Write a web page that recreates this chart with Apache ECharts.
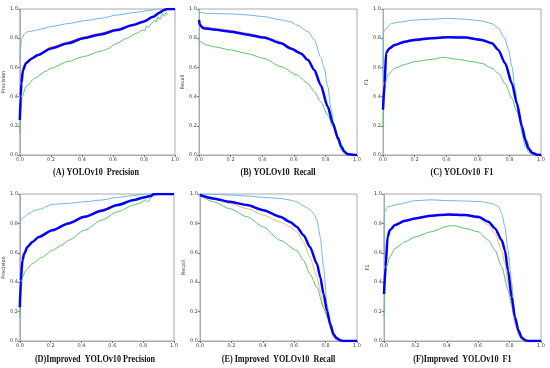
<!DOCTYPE html>
<html><head><meta charset="utf-8">
<script src="https://cdn.jsdelivr.net/npm/echarts@6/dist/echarts.min.js"></script>
<style>html,body{margin:0;padding:0;background:#fff}#c{width:550px;height:368px}</style>
</head><body><div id="c"></div>
<script>
// ---- data: [x, y] pairs ----
const axisTicks = [0.0, 0.2, 0.4, 0.6, 0.8, 1.0];
const seriesColors = ['#6cb6e0', '#f8b46e', '#58c466', '#0000ff'];
const captions = ['(A) YOLOv10  Precision', '(B) YOLOv10  Recall', '(C) YOLOv10  F1',
  '(D)Improved  YOLOv10 Precision', '(E) Improved  YOLOv10  Recall', '(F)Improved  YOLOv10  F1'];
const yNames = ['Precision', 'Recall', 'F1', 'Precision', 'Recall', 'F1'];

const precA_light = [[0,0.64],[0.004,0.72],[0.01,0.79],[0.03,0.83],[0.053,0.845],[0.095,0.852],[0.15,0.866],[0.2,0.88],[0.31,0.90],[0.42,0.92],[0.52,0.936],[0.625,0.958],[0.73,0.975],[0.84,0.99],[0.88,1.0],[1.0,1.0]];
const precA_orange = [[0,0.3],[0.005,0.45],[0.01,0.52],[0.02,0.6],[0.04,0.635],[0.075,0.665],[0.117,0.69],[0.2,0.74],[0.31,0.776],[0.41,0.81],[0.52,0.836],[0.625,0.864],[0.73,0.895],[0.795,0.918],[0.86,0.95],[0.9,0.98],[0.92,1.0],[1,1]];
const precA_green = [[0,0.15],[0.006,0.31],[0.015,0.40],[0.04,0.47],[0.095,0.525],[0.16,0.57],[0.2,0.594],[0.31,0.64],[0.41,0.674],[0.52,0.71],[0.56,0.724],[0.625,0.765],[0.69,0.80],[0.75,0.833],[0.795,0.856],[0.805,0.85],[0.816,0.884],[0.83,0.875],[0.847,0.90],[0.87,0.925],[0.88,0.91],[0.89,0.947],[0.905,0.93],[0.92,0.97],[0.93,0.95],[0.945,0.98],[0.95,0.96]];
const precA_blue = [[0,0.24],[0.005,0.40],[0.01,0.49],[0.02,0.58],[0.04,0.63],[0.075,0.66],[0.117,0.685],[0.2,0.73],[0.31,0.765],[0.41,0.80],[0.52,0.826],[0.625,0.856],[0.73,0.89],[0.795,0.913],[0.86,0.947],[0.9,0.975],[0.93,0.993],[0.95,1.0],[1,1]];

const recB_light = [[0,0.98],[0.05,0.97],[0.2,0.966],[0.3,0.96],[0.41,0.948],[0.52,0.925],[0.58,0.913],[0.62,0.89],[0.69,0.845],[0.73,0.79],[0.77,0.67],[0.79,0.605],[0.815,0.47],[0.836,0.31],[0.857,0.19],[0.88,0.10],[0.9,0.034],[0.93,0.007],[0.96,0],[1,0]];
const recB_orange = [[0,0.91],[0.006,0.895],[0.03,0.88],[0.09,0.87],[0.2,0.855],[0.3,0.835],[0.41,0.812],[0.5,0.785],[0.52,0.77],[0.58,0.735],[0.645,0.695],[0.69,0.645],[0.73,0.575],[0.77,0.47],[0.815,0.325],[0.847,0.21],[0.88,0.1],[0.9,0.045],[0.92,0.015],[0.94,0.003],[0.96,0],[1,0]];
const recB_green = [[0,0.79],[0.006,0.776],[0.05,0.753],[0.09,0.742],[0.2,0.72],[0.3,0.696],[0.41,0.662],[0.52,0.605],[0.62,0.548],[0.69,0.49],[0.73,0.434],[0.77,0.365],[0.815,0.274],[0.847,0.194],[0.88,0.126],[0.9,0.08],[0.92,0.034],[0.94,0.011],[0.96,0],[1,0]];
const recB_blue = [[0,0.925],[0.006,0.89],[0.028,0.868],[0.09,0.86],[0.2,0.845],[0.3,0.826],[0.41,0.804],[0.52,0.765],[0.58,0.73],[0.645,0.696],[0.69,0.65],[0.73,0.582],[0.77,0.48],[0.815,0.33],[0.847,0.217],[0.88,0.114],[0.9,0.057],[0.92,0.023],[0.94,0.007],[0.985,0],[1,0]];

const f1C_light = [[0,0.55],[0.003,0.833],[0.01,0.856],[0.053,0.90],[0.095,0.909],[0.2,0.925],[0.31,0.93],[0.41,0.936],[0.52,0.93],[0.625,0.918],[0.69,0.90],[0.73,0.868],[0.77,0.80],[0.795,0.72],[0.816,0.605],[0.837,0.445],[0.858,0.285],[0.88,0.148],[0.9,0.057],[0.92,0.018],[0.943,0.005],[0.964,0],[1,0]];
const f1C_orange = [[0,0.4],[0.01,0.52],[0.02,0.70],[0.04,0.735],[0.074,0.758],[0.138,0.782],[0.2,0.795],[0.31,0.806],[0.41,0.812],[0.5,0.815],[0.52,0.81],[0.625,0.792],[0.69,0.768],[0.73,0.722],[0.773,0.628],[0.816,0.485],[0.847,0.345],[0.88,0.18],[0.9,0.09],[0.92,0.035],[0.943,0.008],[0.97,0],[1,0]];
const f1C_green = [[0,0.19],[0.006,0.377],[0.015,0.49],[0.03,0.548],[0.074,0.594],[0.138,0.62],[0.2,0.64],[0.31,0.655],[0.38,0.669],[0.477,0.655],[0.56,0.64],[0.625,0.628],[0.69,0.594],[0.73,0.56],[0.773,0.49],[0.816,0.388],[0.847,0.297],[0.88,0.194],[0.91,0.103],[0.932,0.034],[0.953,0.007],[0.975,0],[1,0]];
const f1C_blue = [[0,0.31],[0.01,0.49],[0.02,0.70],[0.04,0.73],[0.074,0.753],[0.138,0.776],[0.2,0.788],[0.31,0.80],[0.41,0.806],[0.52,0.804],[0.625,0.788],[0.69,0.765],[0.73,0.72],[0.773,0.628],[0.816,0.49],[0.847,0.354],[0.88,0.194],[0.9,0.103],[0.92,0.046],[0.943,0.016],[0.975,0.002],[1,0]];

const precD_light = [[0,0.80],[0.006,0.82],[0.028,0.845],[0.06,0.868],[0.1,0.89],[0.145,0.90],[0.166,0.913],[0.21,0.93],[0.315,0.936],[0.42,0.947],[0.53,0.959],[0.634,0.977],[0.74,0.989],[0.804,0.998],[0.826,1.0],[1,1]];
const precD_orange = [[0,0.3],[0.006,0.42],[0.017,0.53],[0.028,0.58],[0.049,0.625],[0.08,0.665],[0.123,0.705],[0.21,0.755],[0.315,0.805],[0.42,0.852],[0.53,0.893],[0.634,0.93],[0.74,0.962],[0.804,0.98],[0.847,0.99],[0.86,1.0],[1,1]];
const precD_green = [[0,0.16],[0.006,0.32],[0.017,0.434],[0.038,0.48],[0.08,0.525],[0.145,0.57],[0.21,0.616],[0.27,0.65],[0.315,0.685],[0.42,0.753],[0.53,0.822],[0.634,0.879],[0.74,0.925],[0.783,0.94],[0.804,0.954],[0.815,0.96],[0.826,0.947],[0.835,0.95],[0.847,0.97],[0.868,0.993],[0.89,1],[1,1]];
const precD_blue = [[0,0.23],[0.006,0.41],[0.017,0.55],[0.028,0.594],[0.049,0.64],[0.08,0.673],[0.123,0.708],[0.21,0.753],[0.315,0.80],[0.42,0.845],[0.53,0.886],[0.634,0.925],[0.74,0.959],[0.804,0.977],[0.847,0.986],[0.868,0.998],[0.89,1],[1,1]];

const recE_light = [[0,1],[0.085,0.998],[0.19,0.993],[0.3,0.986],[0.404,0.977],[0.51,0.97],[0.574,0.959],[0.617,0.947],[0.66,0.918],[0.70,0.895],[0.723,0.868],[0.745,0.822],[0.766,0.708],[0.787,0.502],[0.809,0.251],[0.83,0.091],[0.85,0.023],[0.872,0.005],[0.89,0],[1,0]];
const recE_orange = [[0,0.993],[0.085,0.963],[0.19,0.936],[0.3,0.90],[0.404,0.856],[0.51,0.81],[0.574,0.776],[0.617,0.742],[0.66,0.673],[0.70,0.57],[0.745,0.434],[0.766,0.342],[0.787,0.228],[0.809,0.16],[0.83,0.091],[0.85,0.034],[0.872,0.011],[0.89,0],[1,0]];
const recE_green = [[0,0.993],[0.085,0.947],[0.19,0.90],[0.3,0.845],[0.404,0.776],[0.51,0.685],[0.617,0.616],[0.66,0.548],[0.70,0.457],[0.745,0.365],[0.787,0.228],[0.809,0.171],[0.83,0.114],[0.85,0.057],[0.872,0.018],[0.894,0.005],[0.915,0],[1,0]];
const recE_blue = [[0,0.993],[0.085,0.97],[0.19,0.947],[0.3,0.925],[0.404,0.89],[0.51,0.845],[0.574,0.81],[0.617,0.776],[0.66,0.72],[0.70,0.64],[0.745,0.525],[0.766,0.434],[0.787,0.32],[0.809,0.205],[0.83,0.114],[0.85,0.046],[0.872,0.018],[0.894,0.005],[0.915,0],[1,0]];

const f1F_light = [[0,0.6],[0.002,0.845],[0.006,0.89],[0.028,0.914],[0.09,0.93],[0.2,0.955],[0.3,0.96],[0.41,0.955],[0.516,0.952],[0.62,0.948],[0.686,0.936],[0.73,0.914],[0.75,0.868],[0.77,0.777],[0.79,0.618],[0.813,0.39],[0.834,0.164],[0.856,0.05],[0.877,0.009],[0.9,0],[1,0]];
const f1F_orange = [[0,0.35],[0.01,0.5],[0.023,0.70],[0.038,0.75],[0.07,0.785],[0.134,0.815],[0.2,0.832],[0.3,0.85],[0.41,0.858],[0.516,0.853],[0.6,0.834],[0.665,0.789],[0.707,0.73],[0.75,0.618],[0.77,0.527],[0.79,0.39],[0.813,0.23],[0.834,0.118],[0.856,0.039],[0.877,0.009],[0.9,0],[1,0]];
const f1F_green = [[0,0.164],[0.006,0.39],[0.017,0.505],[0.038,0.573],[0.07,0.63],[0.134,0.675],[0.2,0.709],[0.3,0.743],[0.41,0.782],[0.452,0.784],[0.516,0.766],[0.6,0.743],[0.665,0.686],[0.707,0.618],[0.75,0.505],[0.79,0.345],[0.813,0.255],[0.834,0.141],[0.856,0.061],[0.877,0.016],[0.9,0],[1,0]];
const f1F_blue = [[0,0.32],[0.01,0.505],[0.023,0.71],[0.038,0.755],[0.07,0.789],[0.134,0.818],[0.2,0.834],[0.3,0.852],[0.41,0.861],[0.516,0.857],[0.6,0.845],[0.665,0.811],[0.707,0.766],[0.75,0.686],[0.77,0.618],[0.79,0.48],[0.813,0.30],[0.834,0.164],[0.856,0.073],[0.877,0.023],[0.9,0.005],[0.92,0],[1,0]];

const panelData = [
  [precA_light, precA_orange, precA_green, precA_blue],
  [recB_light, recB_orange, recB_green, recB_blue],
  [f1C_light, f1C_orange, f1C_green, f1C_blue],
  [precD_light, precD_orange, precD_green, precD_blue],
  [recE_light, recE_orange, recE_green, recE_blue],
  [f1F_light, f1F_orange, f1F_green, f1F_blue]
];

// ---- layout ----
const boxes = [
  {l:17, t:9, w:158, h:146}, {l:199, t:9, w:158, h:146}, {l:383, t:9, w:158, h:146},
  {l:16, t:194, w:158, h:147}, {l:200, t:194, w:157, h:147}, {l:384, t:194, w:157, h:147}
];
const captionY = [173, 173, 173, 360, 360, 360];

const grids = [], xAxes = [], yAxes = [], series = [], graphics = [];
const axisCommon = {
  type: 'value', min: 0, max: 1, interval: 0.2,
  axisLine: {show: true, lineStyle: {color: '#aaa', width: 1}},
  axisTick: {show: true, length: 2, lineStyle: {color: '#777'}},
  splitLine: {show: false},
  axisLabel: {fontSize: 5, color: '#444', margin: 2, fontFamily: 'DejaVu Sans',
    formatter: v => axisTicks.includes(Math.round(v*10)/10) ? v.toFixed(1) : ''}
};
boxes.forEach((b, i) => {
  grids.push({left: b.l, top: b.t, width: b.w, height: b.h, show: true, borderColor: '#aaa', borderWidth: 1, backgroundColor: 'transparent'});
  xAxes.push(Object.assign({}, axisCommon, {gridIndex: i}));
  yAxes.push(Object.assign({}, axisCommon, {gridIndex: i, name: yNames[i], nameLocation: 'middle', nameRotate: 90, nameGap: 12,
    nameTextStyle: {fontSize: 5, color: '#333', fontFamily: 'DejaVu Sans'}}));
  panelData[i].forEach((d, k) => {
    series.push({type: 'line', xAxisIndex: i, yAxisIndex: i, data: d, showSymbol: false, symbol: 'none',
      smooth: 0.25, smoothMonotone: 'x', z: 2 + k,
      lineStyle: {color: seriesColors[k], width: k === 3 ? 2.5 : 1}});
  });
  graphics.push({type: 'text', x: b.l + b.w/2, y: captionY[i], scaleX: 0.86,
    style: {text: captions[i], textAlign: 'center', textVerticalAlign: 'middle',
      font: 'bold 9.5px "Liberation Serif", serif', fill: '#111'}});
});

const chart = echarts.init(document.getElementById('c'), null, {renderer: 'canvas'});
chart.setOption({animation: false, grid: grids, xAxis: xAxes, yAxis: yAxes, series: series, graphic: graphics});
</script></body></html>
